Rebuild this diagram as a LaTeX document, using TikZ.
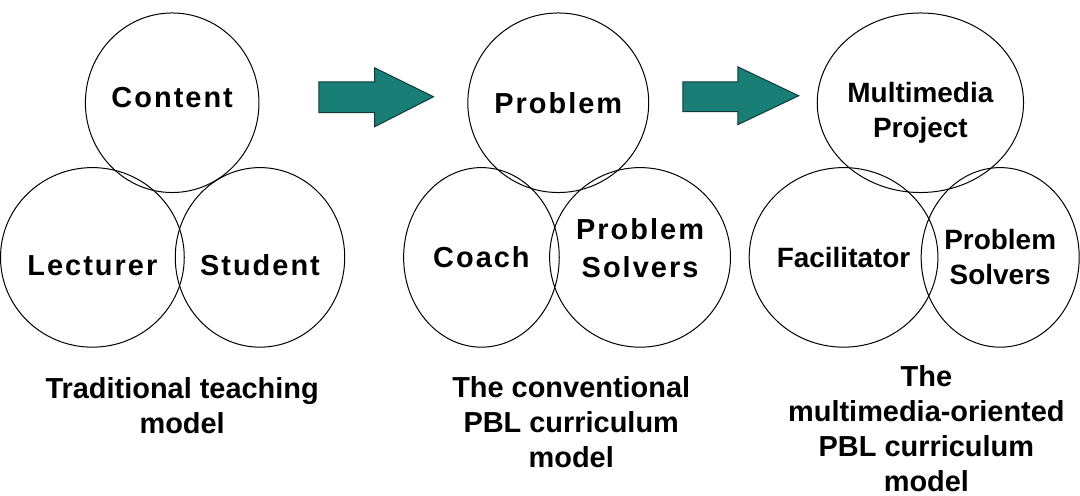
\documentclass[tikz,border=0pt]{standalone}
\usepackage{fontspec}
\setmainfont{Liberation Sans}
\usetikzlibrary{shapes.geometric}

\definecolor{arrowteal}{RGB}{24,126,118}
\definecolor{arrowedge}{RGB}{18,58,54}

\tikzset{
  role/.style={draw, ellipse, line width=1pt, minimum width=#1, minimum height=180pt,
    inner sep=0pt, align=center,
    font=\fontsize{29}{38}\selectfont\bfseries\addfontfeatures{LetterSpace=7}},
  small role/.style={role=#1, font=\fontsize{28}{35}\selectfont\bfseries},
  caption/.style={anchor=north, inner sep=0pt, align=center,
    font=\fontsize{29}{35}\selectfont\bfseries},
  fatarrow/.style={fill=arrowteal, draw=arrowedge, line width=1pt, line join=miter}
}

\begin{document}
\begin{tikzpicture}[x=1pt, y=-1pt]
            \fill[white] (0,0) rectangle (1080,497);
            % traditional teaching model
            \node[role=174pt, text depth=10pt] (content) at (170,103) {Content};
            \node[role=166pt, text height=37pt] (lecturer) at (90,258) {Lecturer};
            \node[role=168pt, text height=37pt] (student) at (258,258) {Student};
            \node[caption] (tradcap) at (180,378) {Traditional teaching\\model};
            \filldraw[fatarrow] (317,82) -- (373,82) -- (373,68) -- (432,97) -- (373,127) -- (373,113) -- (317,113) -- cycle;
            % conventional PBL model
            \node[role=175pt] (problem) at (557,103) {Problem};
            \node[role=156pt] (coach) at (480,258) {Coach};
            \node[role=156pt, text depth=18pt] (solvers) at (639,258) {Problem\\Solvers};
            \node[caption] (pblcap) at (570,377) {The conventional\\PBL curriculum\\model};
            \filldraw[fatarrow] (682,82) -- (737,82) -- (737,67) -- (798,96) -- (737,125) -- (737,112) -- (682,112) -- cycle;
            % multimedia-oriented PBL model
            \node[small role=174pt, text height=75pt] (project) at (920,103) {Multimedia\\Project};
            \node[small role=156pt] (facilitator) at (843,258) {Facilitator};
            \node[small role=155pt] (mmsolvers) at (1000,258) {Problem\\Solvers};
            \node[caption] (mmcap) at (926,366) {The\\multimedia-oriented\\PBL curriculum\\model};
        \end{tikzpicture}
\end{document}
